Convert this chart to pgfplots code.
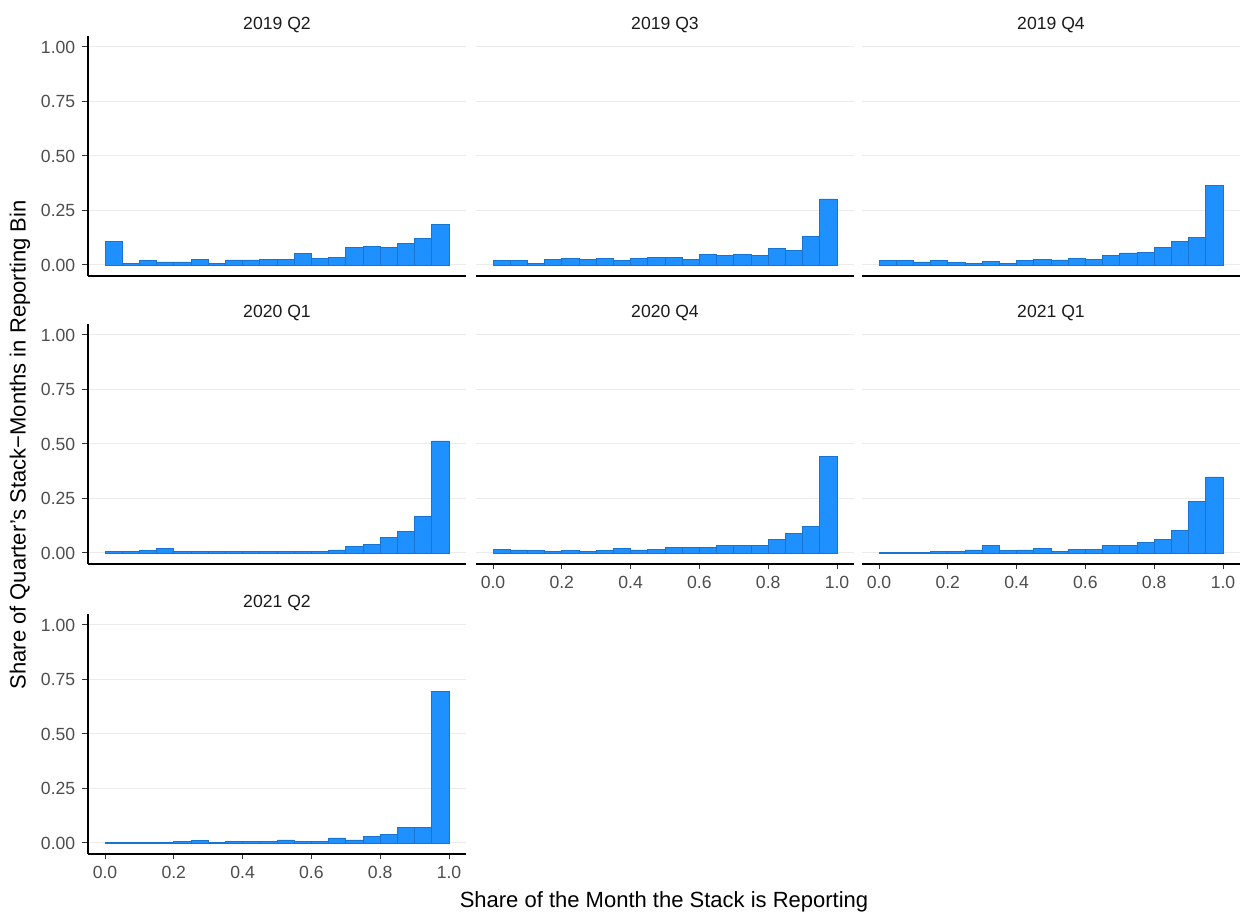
\documentclass[border=0pt]{standalone}
\usepackage{fontspec}
\setmainfont{Liberation Sans}
\usepackage{pgfplots}
\pgfplotsset{compat=1.18}
\usepackage{pgfplotstable}
\definecolor{barfill}{HTML}{1E90FF}
\definecolor{barline}{HTML}{1874CD}
\definecolor{gridc}{HTML}{EBEBEB}
\definecolor{tickc}{HTML}{333333}
\definecolor{ticklab}{HTML}{4D4D4D}
\definecolor{stripc}{HTML}{1A1A1A}
% columns: a=2019 Q2, b=2019 Q3, c=2019 Q4, d=2020 Q1, e=2020 Q4, f=2021 Q1, g=2021 Q2
\pgfplotstableread{
x     a     b     c     d     e     f     g
0.025 0.108 0.021 0.020 0.008 0.018 0.003 0.002
0.075 0.005 0.021 0.020 0.005 0.014 0.003 0.002
0.125 0.020 0.009 0.014 0.011 0.012 0.003 0.002
0.175 0.014 0.024 0.021 0.020 0.009 0.008 0.002
0.225 0.014 0.030 0.011 0.006 0.012 0.009 0.006
0.275 0.024 0.024 0.008 0.006 0.008 0.014 0.011
0.325 0.008 0.032 0.015 0.009 0.011 0.034 0.002
0.375 0.023 0.020 0.009 0.006 0.020 0.012 0.006
0.425 0.023 0.030 0.020 0.008 0.014 0.014 0.006
0.475 0.024 0.033 0.026 0.009 0.017 0.020 0.009
0.525 0.027 0.036 0.023 0.009 0.026 0.009 0.014
0.575 0.053 0.027 0.032 0.009 0.024 0.018 0.005
0.625 0.030 0.047 0.027 0.006 0.027 0.015 0.009
0.675 0.036 0.042 0.044 0.014 0.035 0.034 0.023
0.725 0.082 0.047 0.055 0.032 0.035 0.035 0.014
0.775 0.083 0.045 0.058 0.038 0.034 0.049 0.032
0.825 0.079 0.074 0.082 0.070 0.061 0.063 0.041
0.875 0.100 0.067 0.109 0.098 0.091 0.104 0.072
0.925 0.123 0.132 0.126 0.169 0.122 0.238 0.072
0.975 0.186 0.303 0.364 0.514 0.441 0.349 0.695
}\hist
\pgfplotsset{
 panel/.style={
  anchor=south west, scale only axis, width=189.2pt, height=119.9pt,
  xmin=-0.05, xmax=1.05, ymin=-0.05, ymax=1.05,
  axis x line*=bottom, axis y line*=left,
  axis line style={-, line width=1.2pt, black},
  ytick={0,0.25,0.5,0.75,1},
  yticklabels={0.00,0.25,0.50,0.75,1.00},
  xtick={0,0.2,0.4,0.6,0.8,1},
  xticklabels={0.0,0.2,0.4,0.6,0.8,1.0},
  ymajorgrids, major grid style={line width=0.5pt, gridc},
  tick align=outside, major tick length=2.75pt,
  tick style={line width=0.5pt, tickc},
  tick label style={font=\fontsize{8.8}{10}\selectfont, text=ticklab},
  /pgf/number format/assume math mode=true,
  title style={at={(0.5,1)}, anchor=base, yshift=-2.7pt, font=\fontsize{8.8}{10}\selectfont, text=stripc},
 },
 noy/.style={y axis line style={draw=none}, yticklabels={}, ytick style={draw=none}},
 nox/.style={xtick=\empty},
 hbar/.style={ybar, bar width=0.05, bar shift=0pt, fill=barfill, draw=barline, line width=0.4pt},
}
\begin{document}
\begin{tikzpicture}
\useasboundingbox (0,0) rectangle (622pt,456.5pt);
% row 1
\begin{axis}[panel, nox, at={(43.9pt,318.55pt)}, title={2019 Q2}]
\addplot[hbar] table[x=x, y=a] {\hist};
\end{axis}
\begin{axis}[panel, nox, noy, at={(237.9pt,318.55pt)}, title={2019 Q3}]
\addplot[hbar] table[x=x, y=b] {\hist};
\end{axis}
\begin{axis}[panel, nox, noy, at={(430.9pt,318.55pt)}, title={2019 Q4}]
\addplot[hbar] table[x=x, y=c] {\hist};
\end{axis}
% row 2
\begin{axis}[panel, nox, at={(43.9pt,174.55pt)}, title={2020 Q1}]
\addplot[hbar] table[x=x, y=d] {\hist};
\end{axis}
\begin{axis}[panel, noy, at={(237.9pt,174.55pt)}, title={2020 Q4}]
\addplot[hbar] table[x=x, y=e] {\hist};
\end{axis}
\begin{axis}[panel, noy, at={(430.9pt,174.55pt)}, title={2021 Q1}]
\addplot[hbar] table[x=x, y=f] {\hist};
\end{axis}
% row 3
\begin{axis}[panel, at={(43.9pt,29.55pt)}, title={2021 Q2}]
\addplot[hbar] table[x=x, y=g] {\hist};
\end{axis}
\node[rotate=90, font=\fontsize{11}{13}\selectfont] at (10pt,234pt) {Share of Quarter's Stack−Months in Reporting Bin};
\node[font=\fontsize{11}{13}\selectfont] at (332pt,5.5pt) {Share of the Month the Stack is Reporting};
\end{tikzpicture}
\end{document}
